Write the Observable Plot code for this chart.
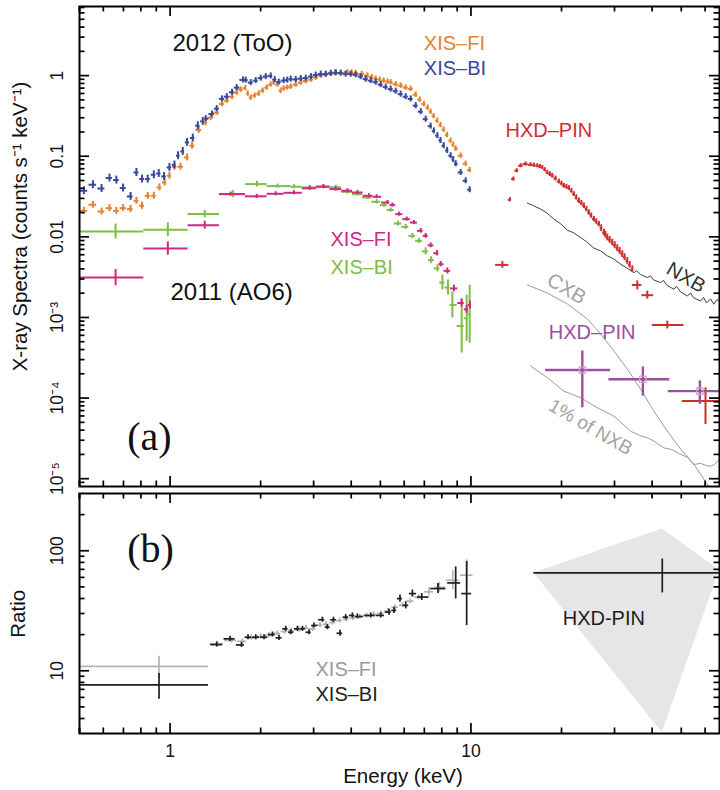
<!DOCTYPE html>
<html><head><meta charset="utf-8">
<script src="https://cdn.jsdelivr.net/npm/d3@7"></script>
<script src="https://cdn.jsdelivr.net/npm/@observablehq/plot@0.6"></script>
<style>
html,body{margin:0;padding:0;background:#fff;}
#chart{position:relative;width:720px;height:790px;}
#chart svg{position:absolute;left:0;overflow:visible;}
</style></head><body><div id="chart"></div>
<script>
// ================= DATA =================
// (a) 2012 (ToO) XIS-FI spectrum
const fi12Energy = [0.517,0.554,0.592,0.629,0.663,0.698,0.739,0.773,0.807,0.843,0.883,0.922,0.960,0.995,1.034,1.083,1.139,1.183,1.245,1.311,
  1.365,1.429,1.489,1.543,1.607,1.665,1.718,1.780,1.812,1.854,1.911,1.971,2.032,2.096,2.160,2.211,2.275,2.332,2.386,2.452,
  2.518,2.616,2.718,2.824,2.941,3.049,3.168,3.291,3.420,3.551,3.691,3.886,4.015,4.140,4.334,4.526,4.679,4.825,4.974,5.128,
  5.288,5.410,5.622,5.840,6.069,6.306,6.552,6.755,6.981,7.182,7.347,7.517,7.733,7.92,8.117,8.33,8.562,8.73,8.897,9.244,
  9.603,9.901];
const fi12Rate = [0.0210,0.0250,0.0206,0.0227,0.0210,0.0227,0.0221,0.0280,0.0243,0.0323,0.0323,0.0410,0.0473,0.0573,0.0741,0.0741,0.0966,0.135,0.2115,0.263,
  0.301,0.347,0.445,0.489,0.548,0.615,0.670,0.700,0.598,0.533,0.564,0.598,0.651,0.710,0.773,0.818,0.773,0.651,0.690,0.710,
  0.730,0.773,0.818,0.855,0.892,0.944,1.0,1.029,1.059,1.065,1.074,1.099,1.090,1.074,1.044,1.0,0.958,0.918,0.892,0.867,
  0.842,0.826,0.784,0.751,0.710,0.684,0.580,0.503,0.445,0.400,0.357,0.314,0.276,0.243,0.2135,0.183,0.1558,0.139,0.124,0.1015,
  0.0807,0.0674];
const fi12Sparse = 20, fi12ErrSparse = 0.105, fi12ErrDense = 0.08;

// (a) 2012 (ToO) XIS-BI spectrum
const bi12Energy = [0.517,0.554,0.592,0.629,0.663,0.698,0.739,0.773,0.807,0.843,0.883,0.917,0.955,0.995,1.034,1.063,1.102,1.139,1.190,1.236,1.284,
  1.314,1.379,1.429,1.489,1.543,1.607,1.665,1.748,1.784,1.854,1.926,2.001,2.079,2.160,2.228,2.297,2.386,2.452,2.518,2.616,
  2.718,2.824,2.941,3.049,3.168,3.291,3.420,3.551,3.691,3.834,3.984,4.140,4.301,4.468,4.643,4.825,5.012,5.208,5.410,5.622,
  5.840,6.069,6.306,6.552,6.808,7.071,7.347,7.53,7.733,7.92,8.117,8.33,8.562,8.73,8.897,9.244,9.603,9.901];
const bi12Rate = [0.0373,0.0443,0.0398,0.0536,0.0506,0.0403,0.0317,0.0629,0.0521,0.0521,0.0589,0.0611,0.0561,0.0726,0.0778,0.1015,0.1147,0.1484,0.1683,0.2393,0.2706,
  0.292,0.334,0.389,0.514,0.548,0.621,0.710,0.884,0.879,0.818,0.867,0.931,0.972,0.991,0.892,0.830,0.867,0.879,0.905,0.897,
  0.918,0.931,0.972,1.014,1.044,1.044,1.068,1.090,1.074,1.044,1.044,1.023,0.972,0.905,0.867,0.830,0.773,0.720,0.680,0.642,
  0.589,0.548,0.514,0.424,0.357,0.288,0.236,0.206,0.180,0.157,0.135,0.118,0.1015,0.091,0.0807,0.0629,0.0496,0.0384];
const bi12Sparse = 21, bi12ErrSparse = 0.12, bi12ErrDense = 0.09;

// (a) 2011 (AO6) XIS-FI (binned)
const fi11Edges = [0.5,0.818,1.148,1.46,1.78,2.101,2.39,2.75,3.07,3.40,3.72,4.04,4.38,4.72,5.05,5.38,5.62,5.94,6.29,6.64,6.94,7.21,7.53,7.82,8.14,8.56,9.04,9.50,9.80,10.0];
const fi11Energy = [0.659,0.983,1.304,1.591,1.941,2.245,2.582,2.911,3.234,3.551,3.886,4.194,4.582,4.861,5.276,5.482,5.765,6.114,6.465,6.808,7.071,7.347,7.709,7.931,8.350,8.781,9.314,9.676,9.924];
const fi11Rate = [0.00312,0.00716,0.01397,0.0339,0.0318,0.0342,0.0352,0.0400,0.0418,0.0391,0.0373,0.0355,0.0323,0.0314,0.0267,0.0248,0.01914,0.01660,0.01505,0.01187,0.01028,0.00784,0.00627,0.00458,0.00378,0.00229,0.00151,0.00126,0.00143];
const fi11Err = [0.26,0.21,0.12,0.06,0.06,0.06,0.06,0.06,0.06,0.06,0.06,0.06,0.06,0.06,0.06,0.06,0.06,0.06,0.06,0.07,0.07,0.07,0.08,0.08,0.09,0.10,0.12,0.12,0.12];

// (a) 2011 (AO6) XIS-BI (binned)
const bi11Edges = [0.5,0.818,1.148,1.46,1.78,2.101,2.518,2.75,3.05,3.40,3.72,4.04,4.36,4.69,5.0,5.27,5.56,5.89,6.22,6.55,6.89,7.22,7.55,7.88,8.2,8.53,9.0,9.5,9.79,10.0];
const bi11Energy = [0.659,0.983,1.304,1.620,1.945,2.275,2.582,2.911,3.234,3.551,3.886,4.194,4.526,4.861,5.140,5.410,5.722,6.069,6.388,6.719,7.071,7.376,7.733,8.035,8.387,8.675,9.314,9.676,9.901];
const bi11Rate = [0.01164,0.01222,0.01914,0.0339,0.0451,0.0426,0.0418,0.0410,0.0422,0.0412,0.0362,0.0339,0.0308,0.0272,0.0248,0.0215,0.01463,0.0133,0.01028,0.00892,0.00660,0.00514,0.00406,0.00271,0.00235,0.00143,0.000784,0.000977,0.001096];
const bi11Err = [0.24,0.22,0.11,0.10,0.083,0.06,0.06,0.06,0.06,0.06,0.06,0.06,0.06,0.06,0.06,0.06,0.074,0.074,0.074,0.074,0.105,0.105,0.105,0.24,0.24,0.45,1.17,0.93,1.29];

// (a) 2012 HXD-PIN (fine bins)
const pin12Energy = [13.48,13.83,14.19,14.63,15.20,15.79,16.2,16.62,16.95,17.27,17.6,17.94,18.3,18.64,19.1,19.61,20.0,20.37,20.77,21.17,21.58,21.99,22.4,22.85,23.3,23.74,
  24.2,24.66,25.1,25.62,26.1,26.62,27.1,27.67,28.0,28.39,28.9,29.50,30.05,30.64,31.2,31.84,32.4,33.08,33.7,34.38];
const pin12Rate = [0.0288,0.0521,0.0661,0.0762,0.0800,0.0784,0.0775,0.0762,0.0745,0.0726,0.0680,0.0629,0.0600,0.0573,0.0530,0.0486,0.0458,0.0430,0.0418,0.0403,0.0372,0.0339,0.0308,0.0280,0.0262,0.0243,
  0.0221,0.0200,0.0183,0.0166,0.0155,0.01438,0.0128,0.01131,0.0106,0.00980,0.0092,0.00850,0.0079,0.00724,0.0067,0.00610,0.0056,0.00503,0.0045,0.00397];
const pin12Err = [0.06,0.06,0.06,0.06,0.06,0.06,0.06,0.06,0.06,0.06,0.06,0.06,0.07,0.07,0.07,0.07,0.07,0.07,0.07,0.07,0.07,0.07,0.08,0.08,0.08,0.08,
  0.08,0.08,0.08,0.08,0.08,0.08,0.10,0.10,0.10,0.10,0.10,0.10,0.10,0.10,0.10,0.10,0.10,0.10,0.10,0.10];
// (a) 2012 HXD-PIN (wide bins)
const pin12BinEnergy = [12.72,35.72,38.55,44.94,60.2];
const pin12BinLo = [12.08,34.38,37.0,40.06,50.4];
const pin12BinHi = [13.37,37.0,40.5,51.0,67.5];
const pin12BinRate = [0.00449,0.00253,0.00189,0.000807,9.18e-5];
const pin12BinRateLo = [0.00408,0.00220,0.00169,0.00072,4.71e-5];
const pin12BinRateHi = [0.00494,0.00284,0.00212,0.00090,1.34e-4];

// (a) 2011 HXD-PIN
const pin11Energy = [23.45,37.27,57.65];
const pin11Lo = [17.71,28.74,45.28];
const pin11Hi = [29.12,45.84,67.5];
const pin11Rate = [2.23e-4,1.71e-4,1.22e-4];
const pin11RateLo = [7.58e-5,1.06e-4,8.35e-5];
const pin11RateHi = [3.84e-4,2.43e-4,1.63e-4];

// (a) background models
const nxbEnergy = [15.40,16.16,17.04,17.84,18.87,19.86,20.91,21.94,23.14,24.24,25.62,26.97,28.39,29.80,31.43,32.91,34.80,35.53,36.63,38.55,39.54,40.46,42.68,43.67,44.69,47.26,48.24,49.76,52.36,53.70,54.95,57.96,59.31,60.68,62.56,64.17,65.52,67.0];
const nxbRate = [0.0262,0.0243,0.0221,0.01987,0.0166,0.01451,0.01211,0.01121,0.00980,0.00867,0.00724,0.00670,0.00581,0.00533,0.00458,0.00412,0.00360,0.00378,0.00342,0.00312,0.00328,0.00292,0.00271,0.00288,0.00253,0.00224,0.00243,0.00207,0.00185,0.00201,0.00175,0.00160,0.00177,0.00151,0.00170,0.00146,0.00165,0.00163];
const nxb1Energy = [15.79,17.94,20.37,23.14,26.30,29.87,33.93,36.63,38.55,40.46,43.78,46.5,49.76,52.36,55.07,57.96,60.68,62.56,64.17,67.0];
const nxb1Rate = [2.50e-4,1.79e-4,1.22e-4,1.01e-4,7.58e-5,5.98e-5,3.89e-5,3.4e-5,3.21e-5,2.95e-5,2.41e-5,2.3e-5,2.00e-5,1.85e-5,1.50e-5,1.55e-5,1.45e-5,1.43e-5,1.48e-5,1.73e-5];
const cxbEnergy = [15.40,17.94,20.91,24.37,26.97,29.87,33.08,36.63,40.55,44.94,49.76,55.07,59.44,62.56];
const cxbRate = [0.00253,0.00201,0.00147,0.000958,0.000624,0.000384,0.000229,0.000129,6.90e-5,3.89e-5,2.33e-5,1.51e-5,9.86e-6,7.41e-6];

// (b) ratio 2012 / 2011
const xisRatioFirstBin = [0.5, 1.342];
const xisRatioFirstEnergy = 0.919;
const fiRatioFirst = [10.86, 8.79, 13.18];   // value, low, high
const biRatioFirst = [7.63, 5.79, 9.49];
const fiRatioEnergy = [1.43,1.60,1.74,1.86,2.0,2.13,2.27,2.4,2.53,2.68,2.83,2.98,3.15,3.3,3.47,3.66,3.85,4.05,4.27,4.5,4.75,5.02,5.3,5.6,5.92,6.27,6.7,7.25,7.85,8.7,9.68];
const fiRatio = [16.8,17.9,17.6,18.9,19.4,19.8,20.5,21.2,21.6,22.0,22.8,22.3,24.0,24.4,25.2,26.2,26.8,27.5,28.2,28.8,29.5,30.1,31.5,33.8,35.2,38.0,41.0,45.5,49.5,56.8,62.6];
const fiRatioErr = [0.05,0.05,0.05,0.05,0.05,0.05,0.05,0.05,0.05,0.05,0.05,0.05,0.05,0.05,0.05,0.05,0.05,0.05,0.05,0.05,0.05,0.05,0.05,0.05,0.05,0.05,0.05,0.08,0.10,0.20,0.34];
const biRatioEnergy = [1.429,1.582,1.727,1.816,1.926,2.053,2.189,2.302,2.424,2.518,2.650,2.754,2.896,3.008,3.209,3.334,3.491,3.671,3.834,4.036,4.194,4.643,5.012,5.341,5.549,5.809,6.069,6.388,6.861,7.768,8.897,9.676];
const biRatio = [16.52,18.44,16.42,19.02,19.02,19.02,20.04,18.80,22.37,20.94,22.37,22.37,20.94,23.84,26.61,23.07,26.61,20.54,27.98,28.91,28.35,28.91,28.91,30.81,31.84,39.90,35.06,43.95,41.16,48.39,53.93,43.95];
const biRatioErr = [0.05,0.05,0.05,0.05,0.05,0.05,0.05,0.05,0.05,0.05,0.05,0.05,0.05,0.05,0.05,0.05,0.05,0.06,0.05,0.05,0.05,0.05,0.05,0.06,0.06,0.07,0.07,0.07,0.07,0.10,0.36,0.85];
const pinRatio = {energy: 43.24, lo: 16.19, hi: 67.5, value: 65.4, valueLo: 44.5, valueHi: 85.2};
const pinBandEnergy = [16.19, 43.24, 67.0];
const pinBandLow = [65.4, 3.04, 68.9];
const pinBandHigh = [65.4, 152, 68.9];

// ticks
const xLabelTicks = [1, 10];
const xLabelText = ["1", "10"];
const topYTicks = [1, 0.1, 0.01, 1e-3, 1e-4, 1e-5];
const topYText = ["1", "0.1", "0.01", "10\u207B\u00B3", "10\u207B\u2074", "10\u207B\u2075"];
const botYTicks = [100, 10];
const botYText = ["100", "10"];

// ================= HELPERS =================
const X_DOMAIN = [0.5, 67];
const FONT = "'Liberation Sans', Arial, Helvetica, sans-serif";
const SERIF = "'Liberation Serif', 'Times New Roman', serif";
const C = {fi12: "#e4822f", bi12: "#36499b", fi11: "#cf2a7d", bi11: "#80bd43", pin12: "#cf2e2e", pin11: "#9b4f9e",
  pinSq: "#cba5cd", nxb: "#2a2a2a", grey: "#8f8f8f", greyText: "#a2a2a2", fiR: "#b3b3b3", biR: "#1e1e1e", band: "#e6e6e6"};

function pointRows(E, V, err, k) {
  const n = E.length;
  return E.map((e, i) => {
    const prev = i > 0 ? E[i - 1] : e * e / E[i + 1];
    const next = i < n - 1 ? E[i + 1] : e * e / E[i - 1];
    const f = Array.isArray(err) ? err[i] : err;
    const kk = Array.isArray(k) ? k[i] : k;
    return {e, v: V[i], lo: e * Math.pow(prev / e, kk / 2), hi: e * Math.pow(next / e, kk / 2),
      vlo: V[i] / (1 + f), vhi: V[i] * (1 + f)};
  });
}
function binRows(edges, E, V, err) {
  return E.map((e, i) => ({e, v: V[i], lo: edges[i], hi: edges[i + 1], vlo: V[i] / (1 + err[i]), vhi: V[i] * (1 + err[i])}));
}
function explicitRows(E, lo, hi, V, vlo, vhi) {
  return E.map((e, i) => ({e, lo: lo[i], hi: hi[i], v: V[i], vlo: vlo[i], vhi: vhi[i]}));
}
function crosses(rows, color, sw) {
  return [
    Plot.ruleY(rows, {y: "v", x1: "lo", x2: "hi", stroke: color, strokeWidth: sw, clip: true}),
    Plot.ruleX(rows, {x: "e", y1: "vlo", y2: "vhi", stroke: color, strokeWidth: sw, clip: true})
  ];
}
function lineRows(E, V) { return E.map((e, i) => ({e, v: V[i]})); }
function decadeMinors(lo, hi) {
  const out = [];
  for (let d = Math.floor(Math.log10(lo)); d <= Math.ceil(Math.log10(hi)); d++)
    for (let m = 2; m <= 9; m++) { const t = m * Math.pow(10, d); if (t > lo * 1.01 && t < hi * 0.99) out.push(t); }
  return out;
}
// inward ticks on all four sides of the frame; lengths given in pixels, converted
// to log-scale factors from the domain and inner frame size (W x H).
function frameTicks(xDom, yDom, W, H, xMaj, xMin, yMaj, yMin) {
  const s = {stroke: "#000", strokeWidth: 1.7};
  const fx = len => Math.pow(xDom[1] / xDom[0], len / W);
  const fy = len => Math.pow(yDom[1] / yDom[0], len / H);
  const out = [];
  for (const [vals, len] of [[xMaj, 10], [xMin, 5.5]]) {
    const rowsB = vals.map(x => ({x, a: yDom[0], b: yDom[0] * fy(len)}));
    const rowsT = vals.map(x => ({x, a: yDom[1], b: yDom[1] / fy(len)}));
    out.push(Plot.ruleX(rowsB, {x: "x", y1: "a", y2: "b", ...s}));
    out.push(Plot.ruleX(rowsT, {x: "x", y1: "a", y2: "b", ...s}));
  }
  for (const [vals, len] of [[yMaj, 10], [yMin, 5.5]]) {
    const rowsL = vals.map(y => ({y, a: xDom[0], b: xDom[0] * fx(len)}));
    const rowsR = vals.map(y => ({y, a: xDom[1], b: xDom[1] / fx(len)}));
    out.push(Plot.ruleY(rowsL, {y: "y", x1: "a", x2: "b", ...s}));
    out.push(Plot.ruleY(rowsR, {y: "y", x1: "a", x2: "b", ...s}));
  }
  return out;
}
function note(text, dx, dy, o = {}) {
  return Plot.text([text], {frameAnchor: "top-left", dx, dy, fontSize: 20, textAnchor: "start", lineAnchor: "middle", ...o});
}

// ================= ROWS =================
const fi12Rows = pointRows(fi12Energy, fi12Rate,
  fi12Energy.map((_, i) => i < fi12Sparse ? fi12ErrSparse : fi12ErrDense),
  fi12Energy.map((_, i) => i < fi12Sparse ? 0.85 : 1));
const bi12Rows = pointRows(bi12Energy, bi12Rate,
  bi12Energy.map((_, i) => i < bi12Sparse ? bi12ErrSparse : bi12ErrDense),
  bi12Energy.map((_, i) => i < bi12Sparse ? 0.85 : 1));
const fi11Rows = binRows(fi11Edges, fi11Energy, fi11Rate, fi11Err);
const bi11Rows = binRows(bi11Edges, bi11Energy, bi11Rate, bi11Err);
const pin12Rows = pointRows(pin12Energy, pin12Rate, pin12Err, 1);
const pin12BinRows = explicitRows(pin12BinEnergy, pin12BinLo, pin12BinHi, pin12BinRate, pin12BinRateLo, pin12BinRateHi);
const pin11Rows = explicitRows(pin11Energy, pin11Lo, pin11Hi, pin11Rate, pin11RateLo, pin11RateHi);

const xMajor = [1, 10];
const xMinor = [0.5].concat(decadeMinors(X_DOMAIN[0] * 0.99, X_DOMAIN[1]));
const topYDomain = [8e-6, 7.2];
const botYDomain = [3, 300];
const FRAME_W = 640, FRAME_HA = 480, FRAME_HB = 240;

// ================= PANEL (a) =================
const panelA = Plot.plot({
  width: 720, height: 490, marginLeft: 79, marginRight: 1, marginTop: 6, marginBottom: 4,
  style: {fontFamily: FONT, background: "transparent", overflow: "visible", color: "#111"},
  x: {type: "log", domain: X_DOMAIN, axis: null},
  y: {type: "log", domain: topYDomain, axis: null},
  marks: [
    Plot.line(lineRows(nxbEnergy, nxbRate), {x: "e", y: "v", stroke: C.nxb, strokeWidth: 0.9, clip: true}),
    Plot.line(lineRows(cxbEnergy, cxbRate), {x: "e", y: "v", stroke: C.grey, strokeWidth: 0.9, clip: true}),
    Plot.line(lineRows(nxb1Energy, nxb1Rate), {x: "e", y: "v", stroke: C.grey, strokeWidth: 0.9, clip: true}),
    ...crosses(bi11Rows, C.bi11, 2),
    ...crosses(fi11Rows, C.fi11, 2),
    ...crosses(fi12Rows, C.fi12, 2),
    ...crosses(bi12Rows, C.bi12, 2),
    ...crosses(pin12Rows, C.pin12, 2),
    ...crosses(pin12BinRows, C.pin12, 2),
    ...crosses(pin11Rows, C.pin11, 2.4),
    Plot.dot(pin11Rows, {x: "e", y: "v", symbol: "square", r: 3.6, stroke: C.pinSq, strokeWidth: 1.2, fill: "none"}),
    // annotations
    note("2012 (ToO)", 153, 37, {fontSize: 24, textAnchor: "middle"}),
    note("XIS\u2013FI", 344.3, 36.7, {fill: C.fi12}),
    note("XIS\u2013BI", 344.3, 62.3, {fill: C.bi12}),
    note("HXD\u2013PIN", 426, 124.3, {fill: C.pin12}),
    note("XIS\u2013FI", 251, 233.3, {fill: C.fi11}),
    note("XIS\u2013BI", 251, 260.7, {fill: C.bi11}),
    note("2011 (AO6)", 91, 285.7, {fontSize: 24}),
    note("(a)", 47.7, 430.7, {fontSize: 40, fontFamily: SERIF}),
    note("HXD\u2013PIN", 469.3, 325.7, {fill: C.pin11}),
    note("NXB", 606.5, 271, {textAnchor: "middle", rotate: 30, fill: "#333"}),
    note("CXB", 487, 282.3, {textAnchor: "middle", rotate: 31, fill: C.greyText}),
    note("1% of NXB", 511, 420.7, {textAnchor: "middle", rotate: 30, fill: C.greyText, fontSize: 19}),
    note("X-ray Spectra (counts s\u207B\u00B9 keV\u207B\u00B9)", -59, 220, {textAnchor: "middle", rotate: -90, fontSize: 20.5}),
    Plot.text(topYTicks.map((v, i) => ({v, t: topYText[i]})), {y: "v", text: "t", frameAnchor: "left", dx: -22, rotate: -90, fontSize: 17.5, textAnchor: "middle", lineAnchor: "middle"}),
    Plot.frame({stroke: "#000", strokeWidth: 2}),
    ...frameTicks(X_DOMAIN, topYDomain, FRAME_W, FRAME_HA, xMajor, xMinor, topYTicks, decadeMinors(topYDomain[0], topYDomain[1]))
  ]
});

// ================= PANEL (b) =================
const fiRRows = [{e: xisRatioFirstEnergy, lo: xisRatioFirstBin[0], hi: xisRatioFirstBin[1], v: fiRatioFirst[0], vlo: fiRatioFirst[1], vhi: fiRatioFirst[2]}]
  .concat(pointRows(fiRatioEnergy, fiRatio, fiRatioErr, 0.9));
const biRRows = [{e: xisRatioFirstEnergy, lo: xisRatioFirstBin[0], hi: xisRatioFirstBin[1], v: biRatioFirst[0], vlo: biRatioFirst[1], vhi: biRatioFirst[2]}]
  .concat(pointRows(biRatioEnergy, biRatio, biRatioErr, 0.9));
const pinRRows = [{e: pinRatio.energy, lo: pinRatio.lo, hi: pinRatio.hi, v: pinRatio.value, vlo: pinRatio.valueLo, vhi: pinRatio.valueHi}];
const bandRows = pinBandEnergy.map((e, i) => ({e, lo: pinBandLow[i], hi: pinBandHigh[i]}));

const panelB = Plot.plot({
  width: 720, height: 300, marginLeft: 79, marginRight: 1, marginTop: 3, marginBottom: 57,
  style: {fontFamily: FONT, background: "transparent", overflow: "visible", color: "#111"},
  x: {type: "log", domain: X_DOMAIN, axis: null},
  y: {type: "log", domain: botYDomain, axis: null},
  marks: [
    Plot.areaY(bandRows, {x: "e", y1: "lo", y2: "hi", fill: C.band, clip: true}),
    ...crosses(fiRRows, C.fiR, 1.7),
    ...crosses(biRRows, C.biR, 1.7),
    ...crosses(pinRRows, C.biR, 1.7),
    note("(b)", 47.7, 55.3, {fontSize: 40, fontFamily: SERIF}),
    note("XIS\u2013FI", 236, 176.3, {fill: "#9a9a9a"}),
    note("XIS\u2013BI", 236, 201, {fill: "#1e1e1e"}),
    note("HXD-PIN", 524.3, 125.3, {textAnchor: "middle", fill: "#1e1e1e"}),
    note("Ratio", -60.7, 120.3, {textAnchor: "middle", rotate: -90, fontSize: 20.5}),
    note("Energy (keV)", 323.5, 282.5, {textAnchor: "middle", fontSize: 20.5}),
    Plot.text(xLabelTicks.map((v, i) => ({v, t: xLabelText[i]})), {x: "v", text: "t", frameAnchor: "bottom", dy: 18, fontSize: 17.5, lineAnchor: "middle"}),
    Plot.text(botYTicks.map((v, i) => ({v, t: botYText[i]})), {y: "v", text: "t", frameAnchor: "left", dx: -22, rotate: -90, fontSize: 17.5, textAnchor: "middle", lineAnchor: "middle"}),
    Plot.frame({stroke: "#000", strokeWidth: 2}),
    ...frameTicks(X_DOMAIN, botYDomain, FRAME_W, FRAME_HB, xMajor, xMinor, botYTicks, decadeMinors(botYDomain[0], botYDomain[1]))
  ]
});

const chart = document.getElementById("chart");
panelA.style.top = "0px";
panelB.style.top = "490px";
chart.appendChild(panelA);
chart.appendChild(panelB);
</script></body></html>
